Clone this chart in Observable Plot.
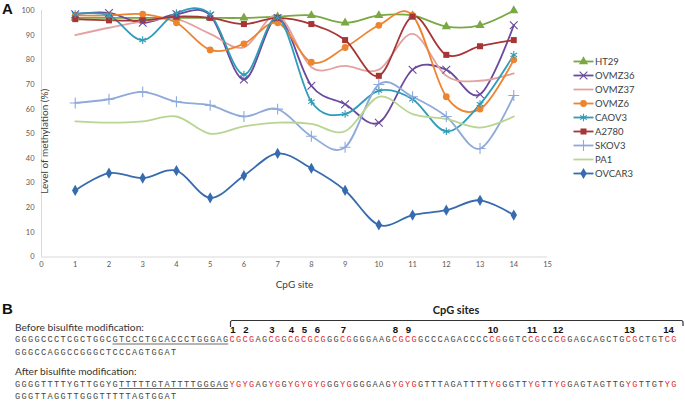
<!DOCTYPE html>
<html>
<head>
<meta charset="utf-8">
<script src="https://cdn.jsdelivr.net/npm/d3@7"></script>
<script src="https://cdn.jsdelivr.net/npm/@observablehq/plot@0.6"></script>
<style>
  body { margin: 0; background: #fff; }
  #root { position: relative; width: 685px; height: 409px; overflow: hidden; background: #fff; }
  #chart, #legend, #panelB { position: absolute; left: 0; top: 0; }
  #legend { left: 560px; top: 40px; }
</style>
</head>
<body>
<div id="root">
  <div id="chart"></div>
  <div id="legend"></div>
  <svg id="panelB" width="685" height="409"></svg>
</div>
<script>
// ---------- Data (panel A) ----------
const sites = [1, 2, 3, 4, 5, 6, 7, 8, 9, 10, 11, 12, 13, 14];
const xTicks = [0, 1, 2, 3, 4, 5, 6, 7, 8, 9, 10, 11, 12, 13, 14, 15];
const yTicks = [0, 10, 20, 30, 40, 50, 60, 70, 80, 90, 100];

const seriesNames = ["HT29", "OVMZ36", "OVMZ37", "OVMZ6", "CAOV3", "A2780", "SKOV3", "PA1", "OVCAR3"];
const seriesColors = ["#7aa843", "#6a4a9c", "#e3a2a1", "#ec8430", "#2f9cb9", "#a83535", "#8eaadb", "#b9d591", "#376baf"];
const seriesSymbols = ["triangle", "times", null, "circle", "asterisk", "square", "plus", null, "diamond"];

const HT29   = [97, 97, 97, 97, 97, 97, 97.5, 98, 95, 98, 98, 93.5, 94, 100];
const OVMZ36 = [98.5, 99, 95, 98.5, 98, 72, 97, 69.5, 62, 54.5, 76, 76, 66, 94];
const OVMZ37 = [90, 93, 95.5, 96.5, 90.5, 85, 98, 77, 77.5, 76, 90.5, 73.5, 71.5, 74.5];
const OVMZ6  = [98, 98, 98.5, 95, 84, 86.5, 95, 79, 85, 94, 98, 65, 60, 80];
const CAOV3  = [98.5, 98, 88, 99, 98.5, 74, 97, 63, 58, 67.5, 64, 51, 62, 82];
const A2780  = [96.5, 96, 96, 97.5, 97, 94.5, 97, 94.5, 88, 73.5, 97.5, 82, 85.5, 88];
const SKOV3  = [62.5, 64, 67, 63, 61.5, 57, 60, 49, 44.5, 70, 65, 57, 44, 65.5];
const PA1    = [55, 54.5, 55, 57, 50, 53, 54.5, 54, 51, 65, 58, 56, 52.5, 57];
const OVCAR3 = [27, 34, 32, 35, 24, 33, 42, 36, 27, 13, 17, 19, 23, 17];

// ---------- Data (panel B) ----------
const beforeParts = [
  ["GGGGCCCTCGCTGGC", "n"], ["GTCCCTGCACCCTGGGAG", "u"], ["CGCG", "r"], ["AG", "n"], ["CG", "r"], ["G", "n"],
  ["CGCGCG", "r"], ["GG", "n"], ["CG", "r"], ["GGGAAG", "n"], ["CGCG", "r"], ["GCCCAGACCCC", "n"], ["CG", "r"],
  ["GGTC", "n"], ["CG", "r"], ["CC", "n"], ["CG", "r"], ["GAGCAGCTG", "n"], ["CG", "r"], ["CTGT", "n"], ["CG", "r"]
];
const afterParts = [
  ["GGGGTTTTYGTTGGYG", "n"], ["TTTTTGTATTTTGGGAG", "u"], ["YGYG", "r"], ["AG", "n"], ["YG", "r"], ["G", "n"],
  ["YGYGYG", "r"], ["GG", "n"], ["YG", "r"], ["GGGAAG", "n"], ["YGYG", "r"], ["GTTTAGATTTT", "n"], ["YG", "r"],
  ["GGTT", "n"], ["YG", "r"], ["TT", "n"], ["YG", "r"], ["GAGTAGTTG", "n"], ["YG", "r"], ["TTGT", "n"], ["YG", "r"]
];
const beforeLine2 = "GGGCCAGGCCGGGCTCCCAGTGGAT";
const afterLine2 = "GGGTTAGGTTGGGTTTTTAGTGGAT";
const beforeLabel = "Before bisulfite modification:";
const afterLabel = "After bisulfite modification:";
const cpgTitle = "CpG sites";

// ---------- Build table ----------
const seriesArrays = [HT29, OVMZ36, OVMZ37, OVMZ6, CAOV3, A2780, SKOV3, PA1, OVCAR3];
const rows = [];
seriesNames.forEach((name, i) => {
  seriesArrays[i].forEach((v, j) => rows.push({series: name, site: sites[j], value: v, symbol: seriesSymbols[i]}));
});
const filledSyms = new Set(["triangle", "circle", "square", "diamond"]);
const strokedSyms = new Set(["times", "asterisk", "plus"]);
const symNames = seriesNames.filter((n, i) => seriesSymbols[i]);
const symRange = seriesSymbols.filter(s => s);

const colorScale = {type: "ordinal", domain: seriesNames, range: seriesColors};
const symbolScale = {domain: symNames, range: symRange};

const chart = Plot.plot({
  width: 685,
  height: 295,
  marginLeft: 41,
  marginRight: 138,
  marginTop: 10,
  marginBottom: 38.5,
  style: {fontFamily: "Lato, 'Open Sans', sans-serif", fontSize: "7.5px", color: "#595959", background: "transparent"},
  x: {domain: [0, 15]},
  y: {domain: [0, 100]},
  color: colorScale,
  symbol: symbolScale,
  marks: [
    Plot.ruleX([0], {stroke: "#d9d9d9", strokeWidth: 1, y1: 0, y2: 100}),
    Plot.ruleY([0], {stroke: "#d9d9d9", strokeWidth: 1, x1: 0, x2: 15}),
    Plot.axisX({ticks: xTicks, tickSize: 0, tickPadding: 5, tickFormat: d => String(d),
      label: "CpG site", labelAnchor: "center", labelOffset: 31, labelArrow: "none"}),
    Plot.axisY({ticks: yTicks, tickSize: 0, tickPadding: 7, tickFormat: d => String(d),
      label: "Level of methylation (%)", labelAnchor: "center", labelOffset: 33, labelArrow: "none"}),
    Plot.line(rows, {x: "site", y: "value", z: "series", stroke: "series", strokeWidth: 1.8,
      curve: "cardinal", tension: 0}),
    Plot.dot(rows.filter(d => filledSyms.has(d.symbol)), {x: "site", y: "value", symbol: "series", fill: "series", r: 3.4}),
    Plot.dot(rows.filter(d => strokedSyms.has(d.symbol)), {x: "site", y: "value", symbol: "series", stroke: "series", r: 3.6, strokeWidth: 1.1})
  ]
});
document.getElementById("chart").appendChild(chart);
d3.select(chart).selectAll('[aria-label="x-axis label"] text, [aria-label="y-axis label"] text')
  .attr("font-size", "10px").attr("fill", "#404040");
// nudge y label down to match reference centring
d3.select(chart).selectAll('[aria-label="y-axis label"]').attr("transform", "translate(0,8)");

// ---------- Legend ----------
const legendRows = seriesNames.map((n, i) => ({series: n, symbol: seriesSymbols[i]}));
const legend = Plot.plot({
  width: 120,
  height: 150,
  marginLeft: 13,
  marginRight: 87,
  marginTop: 10,
  marginBottom: 7,
  style: {fontFamily: "Lato, 'Open Sans', sans-serif", fontSize: "9.5px", color: "#404040", background: "transparent"},
  x: {domain: [0, 1], axis: null},
  y: {type: "point", domain: seriesNames, axis: null},
  color: colorScale,
  symbol: symbolScale,
  marks: [
    Plot.link(legendRows, {x1: () => 0, x2: () => 1, y1: "series", y2: "series", stroke: "series", strokeWidth: 1.8}),
    Plot.dot(legendRows.filter(d => filledSyms.has(d.symbol)), {x: () => 0.5, y: "series", symbol: "series", fill: "series", r: 3.4}),
    Plot.dot(legendRows.filter(d => strokedSyms.has(d.symbol)), {x: () => 0.5, y: "series", symbol: "series", stroke: "series", r: 3.6, strokeWidth: 1.1}),
    Plot.text(legendRows, {x: () => 1, y: "series", text: "series", textAnchor: "start", dx: 1.5, fill: "#404040"})
  ]
});
document.getElementById("legend").appendChild(legend);

// ---------- Panel labels and panel B ----------
const svgB = d3.select("#panelB");
svgB.append("text").attr("x", 2).attr("y", 14).attr("font-family", "'Liberation Sans', Arial, sans-serif")
  .attr("font-weight", "bold").attr("font-size", "15px").attr("fill", "#111").text("A");
svgB.append("text").attr("x", 2).attr("y", 313.5).attr("font-family", "'Liberation Sans', Arial, sans-serif")
  .attr("font-weight", "bold").attr("font-size", "15px").attr("fill", "#111").text("B");

const x0 = 15, charW = 6.5, seqFont = 8.6;
const monoAdvance = seqFont * 0.6;
const ls = charW - monoAdvance;
const redColor = "#e32a2f", seqColor = "#444";

function drawSeq(parts, baseline) {
  const t = svgB.append("text").attr("x", x0).attr("y", baseline)
    .attr("font-family", "'Liberation Mono', 'DejaVu Sans Mono', monospace")
    .attr("font-size", seqFont + "px").attr("letter-spacing", ls + "px").attr("fill", seqColor);
  let idx = 0;
  const sitesIdx = [];
  parts.forEach(([s, k]) => {
    t.append("tspan").attr("fill", k === "r" ? redColor : seqColor).text(s);
    if (k === "u") {
      svgB.append("line").attr("x1", x0 + idx * charW).attr("x2", x0 + (idx + s.length) * charW - ls)
        .attr("y1", baseline + 2).attr("y2", baseline + 2).attr("stroke", seqColor).attr("stroke-width", 0.8);
    }
    if (k === "r") for (let j = 0; j < s.length; j += 2) sitesIdx.push(idx + j);
    idx += s.length;
  });
  return sitesIdx;
}
function drawPlain(str, baseline) {
  svgB.append("text").attr("x", x0).attr("y", baseline)
    .attr("font-family", "'Liberation Mono', 'DejaVu Sans Mono', monospace")
    .attr("font-size", seqFont + "px").attr("letter-spacing", ls + "px").attr("fill", seqColor).text(str);
}
function drawLabel(str, baseline) {
  svgB.append("text").attr("x", x0).attr("y", baseline)
    .attr("font-family", "Lato, 'Open Sans', sans-serif").attr("font-size", "10.2px")
    .attr("fill", "#333").text(str);
}

drawLabel(beforeLabel, 330.5);
const siteIdx = drawSeq(beforeParts, 342);
drawPlain(beforeLine2, 354.5);
drawLabel(afterLabel, 375);
drawSeq(afterParts, 386.5);
drawPlain(afterLine2, 398.5);

// CpG site numbers
siteIdx.forEach((ci, k) => {
  svgB.append("text").attr("x", x0 + ci * charW + 3.5).attr("y", 333)
    .attr("text-anchor", "middle").attr("font-family", "'Liberation Sans', Arial, sans-serif")
    .attr("font-weight", "bold").attr("font-size", "9.6px").attr("fill", "#111").text(String(k + 1));
});

// bracket
const bx1 = x0 + siteIdx[0] * charW + 1, bx2 = 683;
svgB.append("path")
  .attr("d", `M${bx1},327 L${bx1},322.5 Q${bx1},320.5 ${bx1 + 2},320.5 L${bx2 - 2},320.5 Q${bx2},320.5 ${bx2},322.5 L${bx2},326`)
  .attr("fill", "none").attr("stroke", "#333").attr("stroke-width", 1.2);
svgB.append("text").attr("x", 456).attr("y", 313.5).attr("text-anchor", "middle")
  .attr("font-family", "Lato, 'Liberation Sans', sans-serif").attr("font-weight", "bold")
  .attr("font-size", "11px").attr("fill", "#222").text(cpgTitle);
</script>
</body>
</html>
